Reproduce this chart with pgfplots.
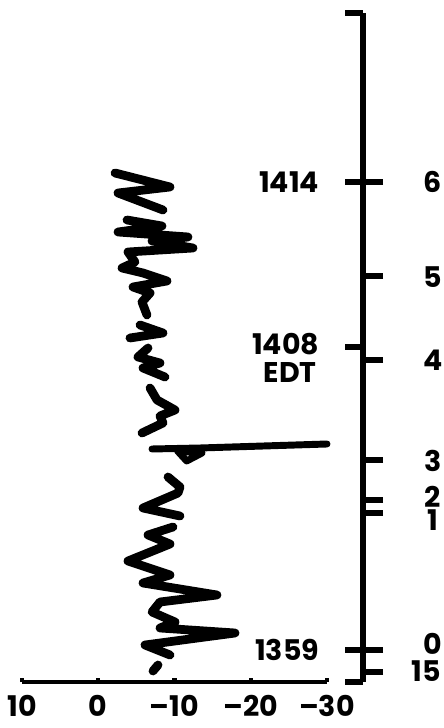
\documentclass[border=0pt]{standalone}
\usepackage{pgfplots}
\pgfplotsset{compat=1.18}
\usepackage{fontspec}
\setmainfont{Poppins}

% 1 px of the reference = 0.72pt
\newcommand{\lab}{\fontsize{20.5}{22}\selectfont\bfseries}

\begin{document}
\begin{tikzpicture}
\useasboundingbox (-15.84pt,-33.12pt) rectangle ++(318.96pt,524.16pt);

% vertical scale on the right
\begin{axis}[
  at={(0,0)}, anchor=south west,
  scale only axis, width=245.52pt, height=481.68pt,
  xmin=0, xmax=1, ymin=46, ymax=715,
  axis x line=none, axis y line*=right,
  axis line style={line width=3.8pt, -},
  ytick={546,452,368,268,228,215,78,56},
  yticklabels={},
  tick align=outside, major tick length=14.4pt,
  tick style={line width=3.8pt, black},
  extra y ticks={715,546,381,78,46},
  extra y tick labels={},
  extra y tick style={tick align=inside, major tick length=13pt},
]
\end{axis}

% trace and horizontal scale
\begin{axis}[
  at={(0,0)}, anchor=south west,
  scale only axis, width=219.6pt, height=481.68pt,
  xmin=-30, xmax=10, x dir=reverse,
  ymin=46, ymax=715,
  axis x line*=bottom, axis y line=none,
  axis line style={line width=3pt, -},
  xtick={10,0,-10,-20,-30},
  xticklabels={10,0,--10,--20,--30},
  tick align=inside, major tick length=3pt,
  tick style={line width=3pt, black},
  xticklabel style={font=\lab, yshift=-6pt},
  clip=false,
  trace/.style={black, line width=6.3pt, line cap=round, line join=round, mark=none},
]
\addplot[trace] coordinates {(-2.20,555) (-9.41,541) (-2.59,535) (-8.49,518)};
\addplot[trace] coordinates {(-3.77,508) (-8.36,502) (-2.59,496) (-11.77,491) (-7.05,487)
  (-12.43,480) (-3.90,476) (-4.82,466) (-3.12,460) (-5.87,455) (-9.02,447) (-4.56,441)
  (-6.79,435) (-5.74,426) (-6.39,413)};
\addplot[trace] coordinates {(-5.48,403) (-8.49,395) (-4.16,390)};
\addplot[trace] coordinates {(-6.53,380) (-5.21,371) (-8.10,365) (-5.87,360) (-8.75,351)};
\addplot[trace] coordinates {(-6.79,340) (-7.71,328) (-10.07,318) (-8.10,312) (-8.49,305) (-5.74,295)};
\addplot[trace, line width=5pt] coordinates {(-7.05,279) (-13.35,280) (-30.0,284)};
\addplot[trace, line width=5pt] coordinates {(-10.4,277) (-11.6,267) (-13.6,275) (-10.4,277)};
\addplot[trace] coordinates {(-9.15,251) (-10.72,241) (-10.46,235) (-5.87,220) (-10.72,212)};
\addplot[trace] coordinates {(-9.80,201) (-6.53,193) (-9.41,184) (-3.90,167) (-9.41,153)
  (-5.87,145) (-15.57,133) (-8.10,126) (-7.05,116) (-10.07,106) (-8.10,100) (-17.94,95)
  (-6.13,83) (-9.41,73)};
\addplot[trace] coordinates {(-7.18,57) (-7.84,63)};

% time labels (left of the scale)
\node[anchor=east, font=\lab] at (axis cs:-29.6,546) {1414};
\node[anchor=east, font=\lab] at (axis cs:-29.6,384) {1408};
\node[anchor=east, font=\lab] at (axis cs:-29.3,355) {EDT};
\node[anchor=east, font=\lab] at (axis cs:-29.6,78) {1359};
% marks (right of the scale)
\node[font=\lab] at (axis cs:-43.9,546) {6};
\node[font=\lab] at (axis cs:-43.9,451) {5};
\node[font=\lab] at (axis cs:-43.9,368) {4};
\node[font=\lab] at (axis cs:-43.9,267) {3};
\node[font=\lab] at (axis cs:-43.9,231) {2};
\node[font=\lab] at (axis cs:-43.9,208) {1};
\node[font=\lab] at (axis cs:-43.9,84) {0};
\node[font=\lab] at (axis cs:-43.0,57) {15};
\end{axis}
\end{tikzpicture}
\end{document}
